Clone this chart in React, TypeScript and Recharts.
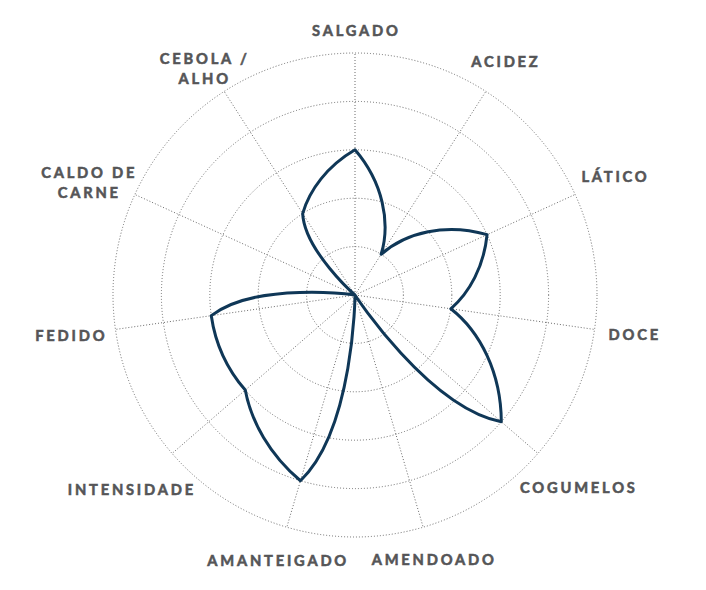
import React from "react";
import {
    RadarChart,
    Radar,
    PolarGrid,
    PolarAngleAxis,
    PolarRadiusAxis,
} from "recharts";

// flavour profile, clockwise from the top
const categories = [
    "SALGADO",
    "ACIDEZ",
    "LÁTICO",
    "DOCE",
    "COGUMELOS",
    "AMENDOADO",
    "AMANTEIGADO",
    "INTENSIDADE",
    "FEDIDO",
    "CALDO DE CARNE",
    "CEBOLA / ALHO",
];
const scores = [3, 1, 3, 2, 4, 0, 4, 3, 3, 0, 2];
const scaleMax = 5;

const data = categories.map((label, i) => ({ label, score: scores[i] }));

const CX = 347;
const CY = 287;
const R = 242;
const LINE_COLOR = "#0f3757";
const TEXT_COLOR = "#555557";
const FONT = "Lato, 'Open Sans', sans-serif";
const FONT_WEIGHT = 700;
const FONT_SIZE = 14.7;
const LETTER_SPACING = 2.8;
const LINE_HEIGHT = 20;

let measureCtx: CanvasRenderingContext2D | null = null;
function textWidth(text: string) {
    if (!measureCtx) {
        measureCtx = document.createElement("canvas").getContext("2d");
    }
    if (!measureCtx) return text.length * FONT_SIZE * 0.7;
    measureCtx.font = `${FONT_WEIGHT} ${FONT_SIZE}px Lato`;
    return measureCtx.measureText(text).width + LETTER_SPACING * (text.length - 1);
}

// long names go on two lines, broken at the last space
function splitLabel(label: string) {
    if (label.length > 11 && label.includes(" ")) {
        const at = label.lastIndexOf(" ");
        return [label.slice(0, at), label.slice(at + 1)];
    }
    return [label];
}

function AngleTick(props: any) {
    const { payload, x, y, cx, cy } = props;
    let angle = payload?.coordinate;
    if (typeof angle !== "number") {
        angle = (Math.atan2((cy ?? CY) - y, x - (cx ?? CX)) * 180) / Math.PI;
    }
    const rad = (angle * Math.PI) / 180;
    const cos = Math.cos(rad);
    const sin = Math.sin(rad);
    const lines = splitLabel(String(payload.value));
    const hw = Math.max(...lines.map(textWidth)) / 2;
    const d = R + 22 + 0.7 * hw * Math.abs(cos);
    const lx = CX + d * cos + LETTER_SPACING / 2;
    const ly = CY - d * sin;

    // first line sits on the anchor, any second line hangs below it
    return (
        <text
            textAnchor="middle"
            fill={TEXT_COLOR}
            stroke={TEXT_COLOR}
            strokeWidth={0.55}
            fontFamily={FONT}
            fontWeight={FONT_WEIGHT}
            fontSize={FONT_SIZE}
            letterSpacing={LETTER_SPACING}
        >
            {lines.map((line, i) => (
                <tspan key={i} x={lx} y={ly + i * LINE_HEIGHT + 5}>
                    {line}
                </tspan>
            ))}
        </text>
    );
}

// Each stretch between two axes follows the polar (spiral) interpolation,
// so the outline keeps a corner at every axis and passes through the centre.
function FlavourOutline(props: any) {
    const pts = props.points || [];
    if (!pts.length) return null;
    const n = pts.length;
    const toRad = Math.PI / 180;

    const handle = (p: any, rFrom: number, rTo: number, dPhi: number) => {
        if (p.radius <= 0.001) return { x: 0, y: 0 };
        const a = p.angle * toRad;
        const radial = (rTo - rFrom) / 3;
        const tangential = (p.radius * dPhi) / 3;
        return {
            x: radial * Math.cos(a) - tangential * Math.sin(a),
            y: -radial * Math.sin(a) - tangential * Math.cos(a),
        };
    };

    let d = `M${pts[0].x},${pts[0].y}`;
    for (let i = 0; i < n; i++) {
        const p0 = pts[i];
        const p1 = pts[(i + 1) % n];
        let dPhi = p1.angle - p0.angle;
        while (dPhi > 180) dPhi -= 360;
        while (dPhi <= -180) dPhi += 360;
        dPhi *= toRad;
        const h0 = handle(p0, p0.radius, p1.radius, dPhi);
        const h1 = handle(p1, p0.radius, p1.radius, dPhi);
        d += ` C${p0.x + h0.x},${p0.y + h0.y} ${p1.x - h1.x},${p1.y - h1.y} ${p1.x},${p1.y}`;
    }
    d += "Z";

    return (
        <path
            d={d}
            fill="none"
            stroke={LINE_COLOR}
            strokeWidth={3}
            strokeLinejoin="round"
        />
    );
}

export default function App() {
    return (
        <div style={{ width: 690, height: 574 }}>
            <RadarChart
                width={690}
                height={574}
                data={data}
                cx={CX}
                cy={CY}
                outerRadius={R}
                startAngle={90}
                endAngle={-270}
                margin={{ top: 0, right: 0, bottom: 0, left: 0 }}
            >
                <PolarGrid
                    gridType="circle"
                    stroke="#6a6a6a"
                    strokeWidth={1}
                    strokeDasharray="1 2"
                />
                <PolarAngleAxis
                    dataKey="label"
                    tick={<AngleTick />}
                    tickLine={false}
                    axisLine={false}
                />
                <PolarRadiusAxis
                    domain={[0, scaleMax]}
                    tickCount={scaleMax + 1}
                    tick={false}
                    axisLine={false}
                />
                <Radar
                    dataKey="score"
                    stroke={LINE_COLOR}
                    fill="none"
                    dot={false}
                    isAnimationActive={false}
                    shape={(p: any) => <FlavourOutline {...p} />}
                />
            </RadarChart>
        </div>
    );
}
